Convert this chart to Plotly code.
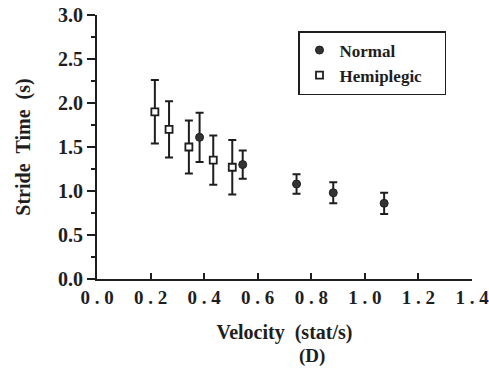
import plotly.graph_objects as go

# Data
normal_velocity = [0.383, 0.544, 0.745, 0.882, 1.072]
normal_stride = [1.61, 1.30, 1.08, 0.98, 0.86]
normal_err = [0.28, 0.16, 0.11, 0.12, 0.12]

hemi_velocity = [0.216, 0.269, 0.343, 0.434, 0.505]
hemi_stride = [1.90, 1.70, 1.50, 1.35, 1.27]
hemi_err = [0.36, 0.32, 0.30, 0.28, 0.31]

x_ticks = [0.0, 0.2, 0.4, 0.6, 0.8, 1.0, 1.2, 1.4]
x_ticktext = ["0\u00a0.\u00a00", "0\u00a0.\u00a02", "0\u00a0.\u00a04", "0\u00a0.\u00a06",
              "0\u00a0.\u00a08", "1\u00a0.\u00a00", "1\u00a0.\u00a02", "1\u00a0.\u00a04"]
y_ticks = [0.0, 0.5, 1.0, 1.5, 2.0, 2.5, 3.0]
y_ticktext = ["0.0", "0.5", "1.0", "1.5", "2.0", "2.5", "3.0"]

INK = "#1e1e1e"
FONT = "Liberation Serif"

fig = go.Figure()
fig.add_trace(go.Scatter(
    x=normal_velocity, y=normal_stride, mode="markers", name="Normal",
    legendgroup="a",
    marker=dict(symbol="circle", size=8, color="#333333", line=dict(color=INK, width=1)),
    error_y=dict(type="data", array=normal_err, visible=True, color=INK, thickness=2, width=4),
))
fig.add_trace(go.Scatter(
    x=hemi_velocity, y=hemi_stride, mode="markers", name="Hemiplegic\u00a0\u00a0\u00a0\u00a0",
    legendgroup="b",
    marker=dict(symbol="square", size=7, color="white", line=dict(color=INK, width=1.8)),
    error_y=dict(type="data", array=hemi_err, visible=True, color=INK, thickness=2, width=4),
))

fig.update_layout(
    width=489, height=368,
    margin=dict(l=97, r=17, t=15, b=89),
    paper_bgcolor="white", plot_bgcolor="white",
    font=dict(family=FONT, color=INK, size=16, weight="bold"),
    showlegend=True,
    legend=dict(
        x=(298 - 97) / 375, y=(279 - 31) / 264, xanchor="left", yanchor="top",
        bordercolor=INK, borderwidth=1.5, bgcolor="white",
        font=dict(family=FONT, size=17, color=INK, weight="bold"),
        traceorder="grouped", tracegroupgap=0,
        itemwidth=30,
    ),
    xaxis=dict(
        range=[0, 1.4], tickvals=x_ticks, ticktext=x_ticktext,
        showgrid=False, zeroline=False, showline=True, linecolor=INK, linewidth=2,
        ticks="inside", ticklen=6, tickwidth=2, tickcolor=INK,
        ticklabeloverflow="allow", automargin=False,
        tickfont=dict(family=FONT, size=19, color=INK, weight="bold"),
        title=dict(text="Velocity\u00a0\u00a0(stat/s)", standoff=18,
                   font=dict(family=FONT, size=20, color=INK, weight="bold")),
    ),
    yaxis=dict(
        range=[0, 3.0], tickvals=y_ticks, ticktext=y_ticktext,
        showgrid=False, zeroline=False, showline=True, linecolor=INK, linewidth=2,
        ticks="outside", ticklen=8, tickwidth=2, tickcolor=INK,
        automargin=False,
        tickfont=dict(family=FONT, size=20, color=INK, weight="bold"),
        minor=dict(dtick=0.25, tick0=0, ticks="outside", ticklen=4, tickwidth=1.5, tickcolor=INK),
        title=dict(text="Stride\u00a0\u00a0Time\u00a0\u00a0(s)", standoff=22,
                   font=dict(family=FONT, size=20, color=INK, weight="bold")),
    ),
)

fig.add_annotation(
    text="(D)", xref="paper", yref="paper", x=(312 - 97) / 375, y=-(356 - 279) / 264,
    showarrow=False, xanchor="center", yanchor="middle",
    font=dict(family=FONT, size=19, color=INK, weight="bold"),
)

fig.write_html("out.html")
